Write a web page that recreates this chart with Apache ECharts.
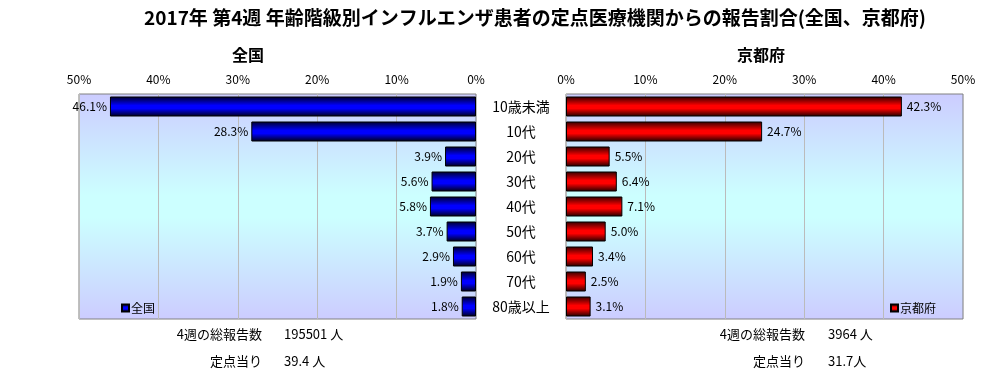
<!DOCTYPE html>
<html>
<head>
<meta charset="utf-8">
<script src="https://cdn.jsdelivr.net/npm/echarts@6/dist/echarts.min.js"></script>
<style>
html,body{margin:0;padding:0;background:#fff;}
#c{width:1006px;height:373px;}
</style>
</head>
<body>
<div id="c"></div>
<script>
const categories = ['10歳未満','10代','20代','30代','40代','50代','60代','70代','80歳以上'];
const nationalValues = [46.1, 28.3, 3.9, 5.6, 5.8, 3.7, 2.9, 1.9, 1.8];
const kyotoValues = [42.3, 24.7, 5.5, 6.4, 7.1, 5.0, 3.4, 2.5, 3.1];
const axisTicks = [0, 10, 20, 30, 40, 50];
const seriesNames = ['全国', '京都府'];
const nationalStats = ['4週の総報告数', '195501 人', '定点当り', '39.4 人'];
const kyotoStats = ['4週の総報告数', '3964 人', '定点当り', '31.7人'];
const mainTitle = '2017年 第4週 年齢階級別インフルエンザ患者の定点医療機関からの報告割合(全国、京都府)';

const FONT = "'Noto Sans CJK JP', sans-serif";
const chart = echarts.init(document.getElementById('c'), null, {renderer: 'canvas'});

function plotBg() {
  return new echarts.graphic.LinearGradient(0, 0, 0, 1, [
    {offset: 0, color: '#ccccff'},
    {offset: 0.45, color: '#ccffff'},
    {offset: 0.55, color: '#ccffff'},
    {offset: 1, color: '#ccccff'}
  ]);
}
const blueGrad = new echarts.graphic.LinearGradient(0, 0, 0, 1, [
  {offset: 0, color: '#000028'},
  {offset: 0.45, color: '#0000ff'},
  {offset: 0.6, color: '#0000ff'},
  {offset: 1, color: '#000018'}
]);
const redGrad = new echarts.graphic.LinearGradient(0, 0, 0, 1, [
  {offset: 0, color: '#300000'},
  {offset: 0.45, color: '#ff0000'},
  {offset: 0.6, color: '#ff0000'},
  {offset: 1, color: '#200000'}
]);

const xCommon = {
  type: 'value', min: axisTicks[0], max: axisTicks[axisTicks.length - 1], interval: 10,
  position: 'top',
  axisLine: {show: false}, axisTick: {show: false},
  axisLabel: {formatter: '{value}%', color: '#000', fontSize: 12, fontFamily: FONT, margin: 9},
  splitLine: {show: true, lineStyle: {color: '#bbbbbb', width: 1}}
};

function statText(x, y, text, align) {
  return {type: 'text', x: x, y: y, style: {text: text, fill: '#000', font: '13px ' + FONT, textAlign: align, textVerticalAlign: 'middle'}};
}

chart.setOption({
  animation: false,
  backgroundColor: '#fff',
  title: [
    {text: mainTitle, left: 139, top: 3, textStyle: {fontSize: 19, fontWeight: 'bold', color: '#000', fontFamily: FONT}},
    {text: seriesNames[0], left: 243, top: 42, textAlign: 'center', textStyle: {fontSize: 16, fontWeight: 'bold', color: '#000', fontFamily: FONT}},
    {text: seriesNames[1], left: 756, top: 42, textAlign: 'center', textStyle: {fontSize: 16, fontWeight: 'bold', color: '#000', fontFamily: FONT}}
  ],
  legend: [
    {data: [seriesNames[0]], left: 116, top: 297, icon: 'rect', itemWidth: 7, itemHeight: 7, itemGap: 2,
     textStyle: {fontSize: 12, color: '#000', fontFamily: FONT, padding: [0,0,0,-3]}},
    {data: [seriesNames[1]], left: 885, top: 297, icon: 'rect', itemWidth: 7, itemHeight: 7, itemGap: 2,
     textStyle: {fontSize: 12, color: '#000', fontFamily: FONT, padding: [0,0,0,-3]}}
  ],
  grid: [
    {left: 79, top: 94, width: 397, height: 225, show: true, backgroundColor: plotBg(), borderColor: '#808080', borderWidth: 1, containLabel: false},
    {left: 566, top: 94, width: 397, height: 225, show: true, backgroundColor: plotBg(), borderColor: '#808080', borderWidth: 1, containLabel: false}
  ],
  xAxis: [
    Object.assign({}, xCommon, {gridIndex: 0, inverse: true}),
    Object.assign({}, xCommon, {gridIndex: 1})
  ],
  yAxis: [
    {type: 'category', gridIndex: 0, data: categories, inverse: true,
     axisLine: {show: false}, axisTick: {show: false}, axisLabel: {show: false}},
    {type: 'category', gridIndex: 1, data: categories, inverse: true,
     axisLine: {show: false}, axisTick: {show: false},
     axisLabel: {show: true, align: 'center', margin: 45, color: '#000', fontSize: 14, fontFamily: FONT, padding: [6, 0, 0, 0]}}
  ],
  series: [
    {name: seriesNames[0], type: 'bar', xAxisIndex: 0, yAxisIndex: 0, data: nationalValues, barWidth: 20,
     itemStyle: {color: blueGrad, borderColor: '#000', borderWidth: 1},
     label: {show: true, position: 'left', distance: 3, color: '#000', fontSize: 12, fontFamily: FONT,
             formatter: p => p.value.toFixed(1) + '%'}},
    {name: seriesNames[1], type: 'bar', xAxisIndex: 1, yAxisIndex: 1, data: kyotoValues, barWidth: 20,
     itemStyle: {color: redGrad, borderColor: '#000', borderWidth: 1},
     label: {show: true, position: 'right', distance: 5, color: '#000', fontSize: 12, fontFamily: FONT,
             formatter: p => p.value.toFixed(1) + '%'}}
  ],
  graphic: [
    statText(262, 334, nationalStats[0], 'right'),
    statText(284, 334, nationalStats[1], 'left'),
    statText(262, 361, nationalStats[2], 'right'),
    statText(284, 361, nationalStats[3], 'left'),
    statText(805, 334, kyotoStats[0], 'right'),
    statText(828, 334, kyotoStats[1], 'left'),
    statText(805, 361, kyotoStats[2], 'right'),
    statText(828, 361, kyotoStats[3], 'left')
  ]
});
</script>
</body>
</html>
